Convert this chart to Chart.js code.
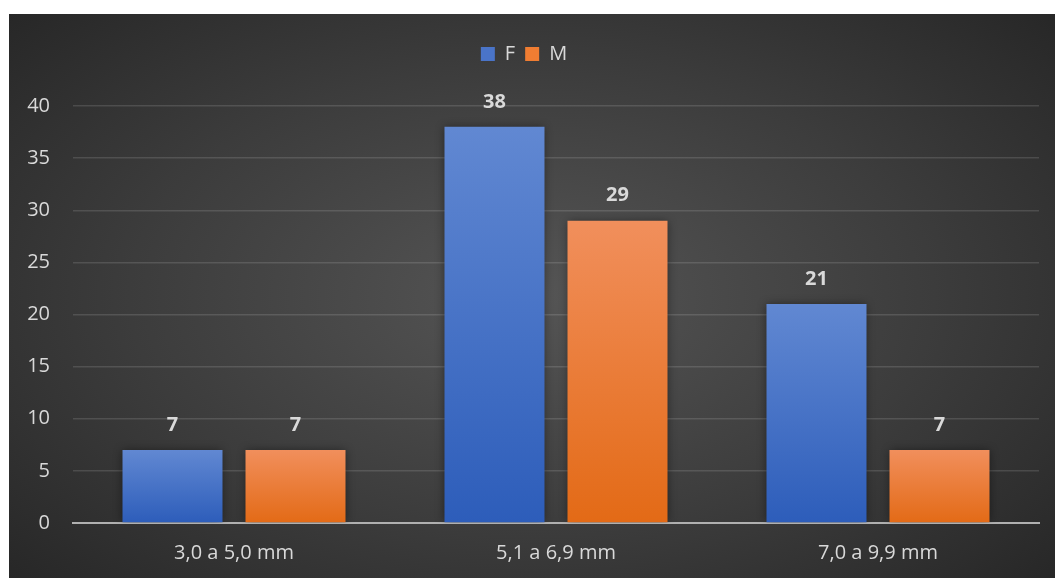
<!DOCTYPE html>
<html>
<head>
<meta charset="utf-8">
<script src="https://cdn.jsdelivr.net/npm/chart.js@4"></script>
<style>
  html, body { margin: 0; padding: 0; background: #fff; }
  #wrap {
    position: absolute; left: 9px; top: 14px; width: 1046px; height: 564px;
    background: radial-gradient(ellipse 70% 75% at 50% 50%, #555555 0%, #3c3c3c 55%, #262626 100%);
  }
</style>
</head>
<body>
<div id="wrap"><canvas id="chart" width="1046" height="564"></canvas></div>
<script>
var categorias = ['3,0 a 5,0 mm', '5,1 a 6,9 mm', '7,0 a 9,9 mm'];
var valoresF = [7, 38, 21];
var valoresM = [7, 29, 7];
var ticksY = [0, 5, 10, 15, 20, 25, 30, 35, 40];

var corTexto = '#d9d9d9';
var fonte = "'Open Sans', sans-serif";

function gradiente(topo, base) {
    return function (ctx) {
        var chart = ctx.chart;
        if (!chart.chartArea || ctx.type !== 'data') return topo;
        var y = chart.scales.y;
        var yTop = y.getPixelForValue(ctx.raw);
        var yBase = y.getPixelForValue(0);
        if (!isFinite(yTop) || yTop === yBase) return topo;
        var g = chart.ctx.createLinearGradient(0, yTop, 0, yBase);
        g.addColorStop(0, topo);
        g.addColorStop(1, base);
        return g;
    };
}

var rotulos = {
    id: 'rotulos',
    afterDatasetsDraw: function (chart) {
        var ctx = chart.ctx;
        ctx.save();
        ctx.font = 'bold 20px ' + fonte;
        ctx.fillStyle = corTexto;
        ctx.textAlign = 'center';
        ctx.textBaseline = 'middle';
        chart.data.datasets.forEach(function (ds, i) {
            chart.getDatasetMeta(i).data.forEach(function (bar, j) {
                ctx.fillText(ds.data[j], bar.x, bar.y - 25);
            });
        });
        ctx.restore();
    }
};

var sombra = {
    id: 'sombra',
    beforeDatasetsDraw: function (chart) {
        var ctx = chart.ctx;
        ctx.save();
        ctx.shadowColor = 'rgba(0,0,0,0.45)';
        ctx.shadowBlur = 9;
        ctx.shadowOffsetX = 0;
        ctx.shadowOffsetY = 0;
    },
    afterDatasetsDraw: function (chart) {
        chart.ctx.restore();
    }
};

var espacoLegenda = {
    id: 'espacoLegenda',
    beforeInit: function (chart) {
        var fit = chart.legend.fit;
        chart.legend.fit = function () {
            fit.bind(chart.legend)();
            this.height += 32;
        };
    }
};

new Chart(document.getElementById('chart'), {
    type: 'bar',
    data: {
        labels: categorias,
        datasets: [
            {
                label: 'F',
                data: valoresF,
                backgroundColor: gradiente('#6188d2', '#2d5dba'),
                categoryPercentage: 0.764,
                barPercentage: 0.813
            },
            {
                label: 'M',
                data: valoresM,
                backgroundColor: gradiente('#f18f5c', '#e36a16'),
                categoryPercentage: 0.764,
                barPercentage: 0.813
            }
        ]
    },
    options: {
        responsive: false,
        animation: false,
        layout: { padding: { top: 20, right: 16, left: 0, bottom: 0 } },
        plugins: {
            tooltip: { enabled: false },
            legend: {
                position: 'top',
                labels: {
                    color: corTexto,
                    font: { family: fonte, size: 20 },
                    boxWidth: 14,
                    boxHeight: 14,
                    padding: 10,
                    generateLabels: function (chart) {
                        var cores = ['#4a74c8', '#f07d32'];
                        return chart.data.datasets.map(function (ds, i) {
                            return {
                                text: ds.label, fillStyle: cores[i], strokeStyle: cores[i],
                                lineWidth: 0, fontColor: corTexto, datasetIndex: i
                            };
                        });
                    }
                }
            }
        },
        scales: {
            x: {
                grid: { display: false, drawTicks: false },
                border: { display: true, color: '#b0b0b0', width: 2 },
                ticks: { color: corTexto, font: { family: fonte, size: 20 }, padding: 18 },
                afterFit: function (s) { s.height = 55; }
            },
            y: {
                min: 0,
                max: 40,
                afterBuildTicks: function (s) {
                    s.ticks = ticksY.map(function (v) { return { value: v }; });
                },
                grid: { color: 'rgba(255,255,255,0.13)', lineWidth: 1.5, drawTicks: false },
                border: { display: false },
                ticks: { color: corTexto, font: { family: fonte, size: 20 }, padding: 23 },
                afterFit: function (s) { s.width = 64; }
            }
        }
    },
    plugins: [espacoLegenda, sombra, rotulos]
});
</script>
</body>
</html>
